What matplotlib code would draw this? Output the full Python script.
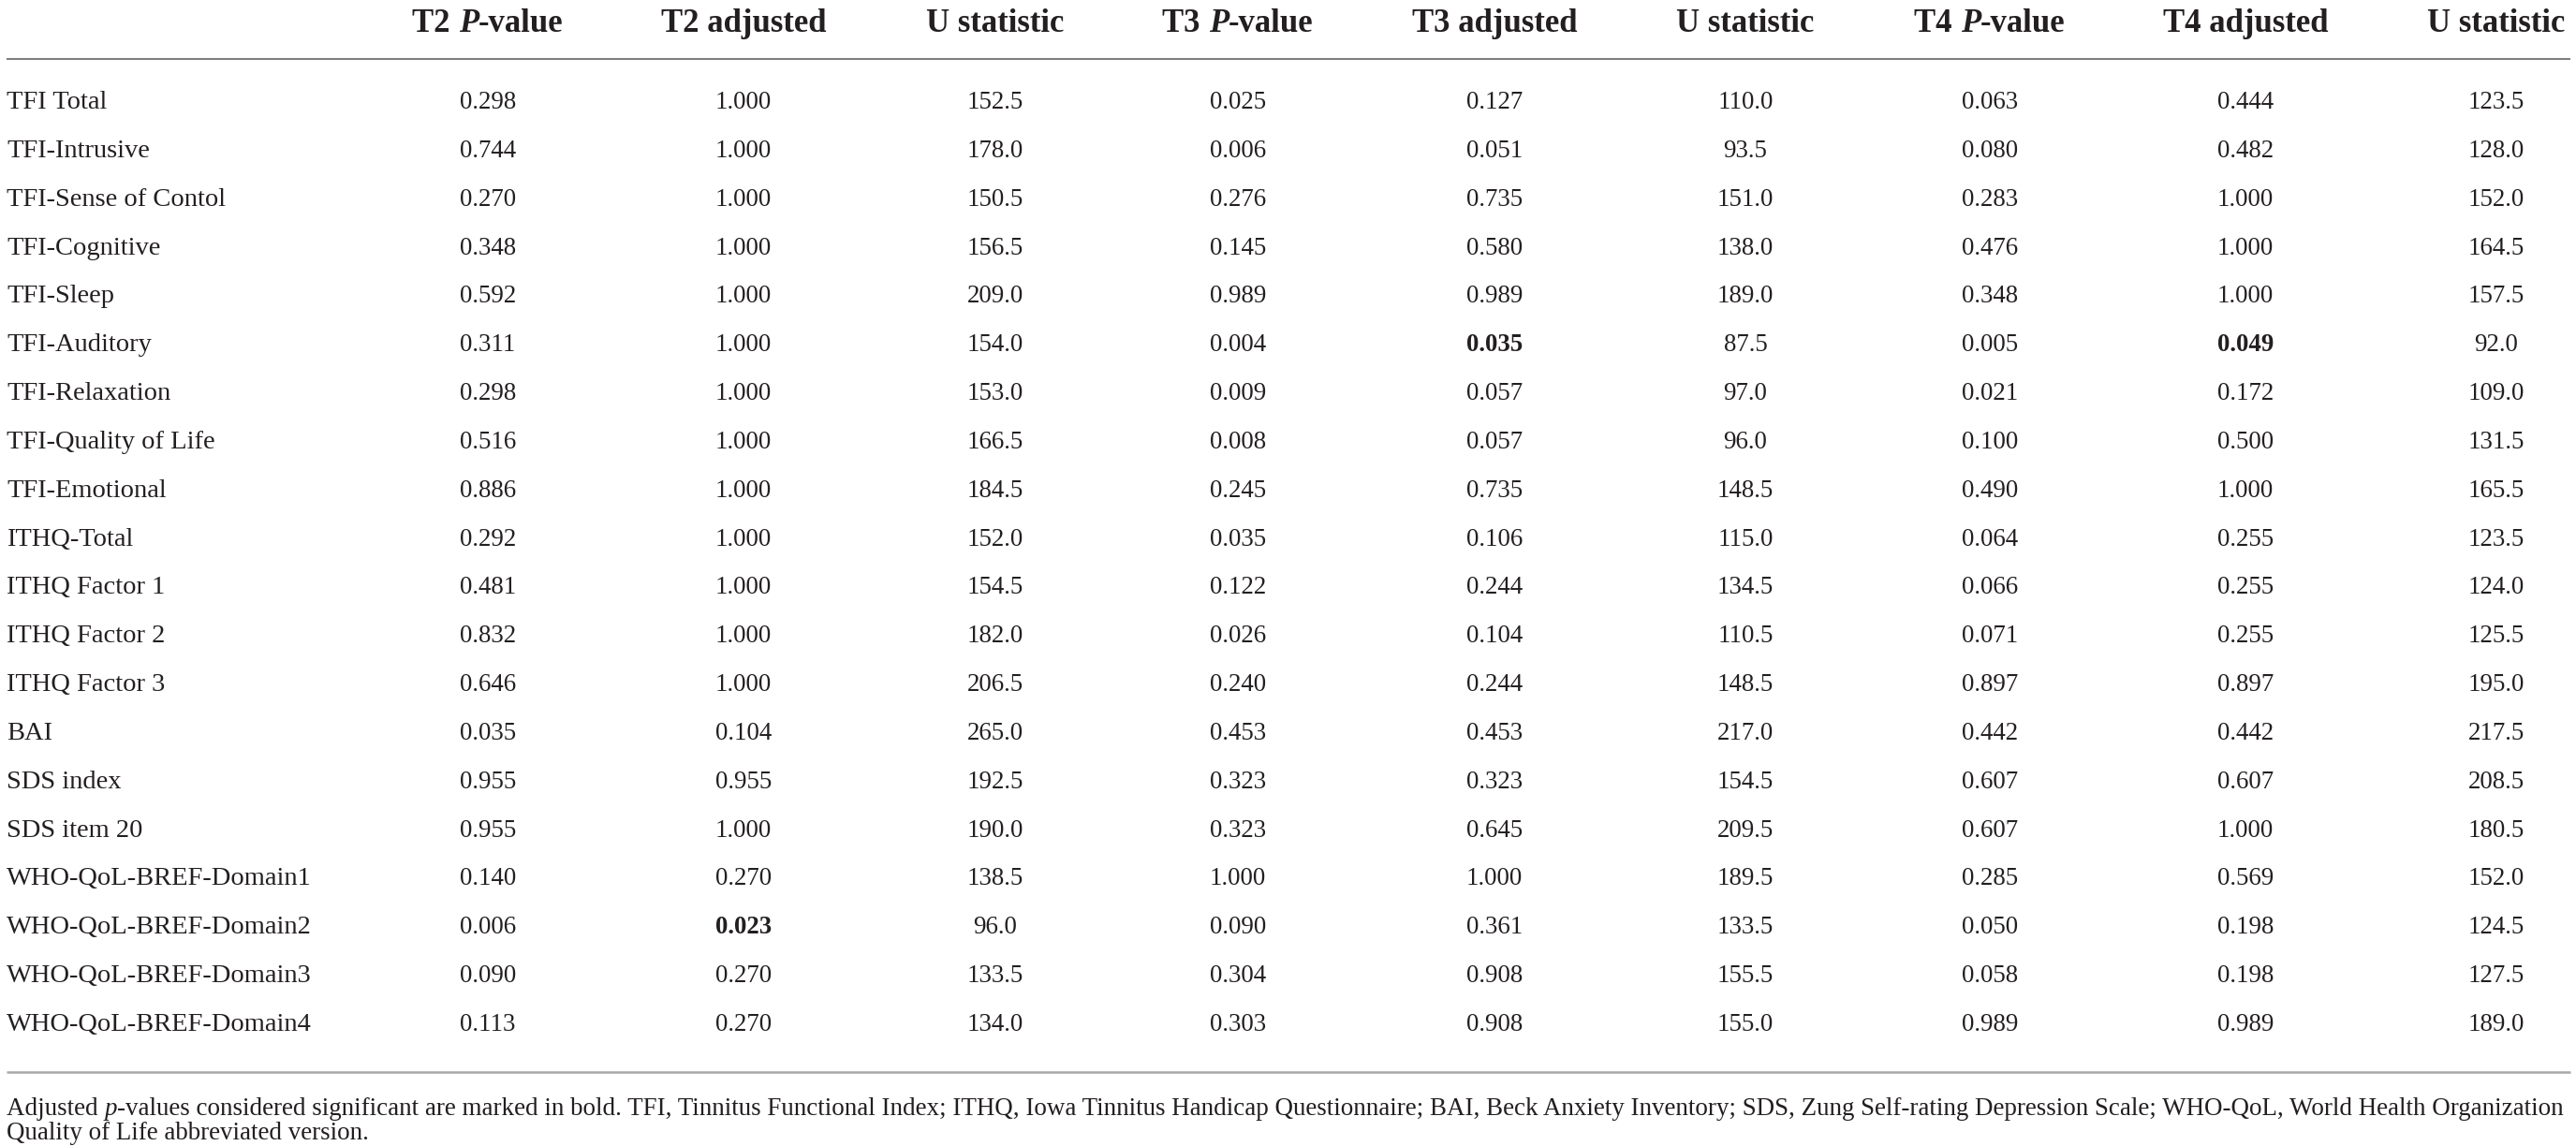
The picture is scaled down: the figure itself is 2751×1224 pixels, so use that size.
import matplotlib
matplotlib.use("Agg")
import matplotlib.pyplot as plt

# ---------------- data ----------------
row_labels = ["TFI Total", "TFI-Intrusive", "TFI-Sense of Contol", "TFI-Cognitive", "TFI-Sleep",
              "TFI-Auditory", "TFI-Relaxation", "TFI-Quality of Life", "TFI-Emotional", "ITHQ-Total",
              "ITHQ Factor 1", "ITHQ Factor 2", "ITHQ Factor 3", "BAI", "SDS index", "SDS item 20",
              "WHO-QoL-BREF-Domain1", "WHO-QoL-BREF-Domain2", "WHO-QoL-BREF-Domain3", "WHO-QoL-BREF-Domain4"]

t2_p = [0.298, 0.744, 0.270, 0.348, 0.592, 0.311, 0.298, 0.516, 0.886, 0.292,
        0.481, 0.832, 0.646, 0.035, 0.955, 0.955, 0.140, 0.006, 0.090, 0.113]
t2_adj = [1.000, 1.000, 1.000, 1.000, 1.000, 1.000, 1.000, 1.000, 1.000, 1.000,
          1.000, 1.000, 1.000, 0.104, 0.955, 1.000, 0.270, 0.023, 0.270, 0.270]
t2_u = [152.5, 178.0, 150.5, 156.5, 209.0, 154.0, 153.0, 166.5, 184.5, 152.0,
        154.5, 182.0, 206.5, 265.0, 192.5, 190.0, 138.5, 96.0, 133.5, 134.0]
t3_p = [0.025, 0.006, 0.276, 0.145, 0.989, 0.004, 0.009, 0.008, 0.245, 0.035,
        0.122, 0.026, 0.240, 0.453, 0.323, 0.323, 1.000, 0.090, 0.304, 0.303]
t3_adj = [0.127, 0.051, 0.735, 0.580, 0.989, 0.035, 0.057, 0.057, 0.735, 0.106,
          0.244, 0.104, 0.244, 0.453, 0.323, 0.645, 1.000, 0.361, 0.908, 0.908]
t3_u = [110.0, 93.5, 151.0, 138.0, 189.0, 87.5, 97.0, 96.0, 148.5, 115.0,
        134.5, 110.5, 148.5, 217.0, 154.5, 209.5, 189.5, 133.5, 155.5, 155.0]
t4_p = [0.063, 0.080, 0.283, 0.476, 0.348, 0.005, 0.021, 0.100, 0.490, 0.064,
        0.066, 0.071, 0.897, 0.442, 0.607, 0.607, 0.285, 0.050, 0.058, 0.989]
t4_adj = [0.444, 0.482, 1.000, 1.000, 1.000, 0.049, 0.172, 0.500, 1.000, 0.255,
          0.255, 0.255, 0.897, 0.442, 0.607, 1.000, 0.569, 0.198, 0.198, 0.989]
t4_u = [123.5, 128.0, 152.0, 164.5, 157.5, 92.0, 109.0, 131.5, 165.5, 123.5,
        124.0, 125.5, 195.0, 217.5, 208.5, 180.5, 152.0, 124.5, 127.5, 189.0]

# significant adjusted values (row index, column key) shown in bold
bold_cells = [(17, "t2_adj"), (5, "t3_adj"), (5, "t4_adj")]

headers = [[("T2 ", "bold"), ("P", "bolditalic"), ("-value", "bold")],
           [("T2 adjusted", "bold")],
           [("U statistic", "bold")],
           [("T3 ", "bold"), ("P", "bolditalic"), ("-value", "bold")],
           [("T3 adjusted", "bold")],
           [("U statistic", "bold")],
           [("T4 ", "bold"), ("P", "bolditalic"), ("-value", "bold")],
           [("T4 adjusted", "bold")],
           [("U statistic", "bold")]]

col_keys = ["t2_p", "t2_adj", "t2_u", "t3_p", "t3_adj", "t3_u", "t4_p", "t4_adj", "t4_u"]
col_data = {"t2_p": t2_p, "t2_adj": t2_adj, "t2_u": t2_u,
            "t3_p": t3_p, "t3_adj": t3_adj, "t3_u": t3_u,
            "t4_p": t4_p, "t4_adj": t4_adj, "t4_u": t4_u}
col_fmt = {"t2_p": "{:.3f}", "t2_adj": "{:.3f}", "t2_u": "{:.1f}",
           "t3_p": "{:.3f}", "t3_adj": "{:.3f}", "t3_u": "{:.1f}",
           "t4_p": "{:.3f}", "t4_adj": "{:.3f}", "t4_u": "{:.1f}"}

caption_lines = [
    [("Adjusted ", "normal"), ("p", "italic"),
     ("-values considered significant are marked in bold. TFI, Tinnitus Functional Index; ITHQ, Iowa Tinnitus "
      "Handicap Questionnaire; BAI, Beck Anxiety Inventory; SDS, Zung Self-rating Depression Scale; WHO-QoL, "
      "World Health Organization", "normal")],
    [("Quality of Life abbreviated version.", "normal")],
]

# ---------------- layout ----------------
W, H = 2751, 1224
fig = plt.figure(figsize=(W / 100, H / 100), dpi=100)
ax = fig.add_axes([0, 0, 1, 1])
ax.set_xlim(0, W)
ax.set_ylim(H, 0)
ax.axis("off")

FONT = "Liberation Serif"
TXT = "#231f20"
HEAD_FS = 25.0
NUM_FS = 19.4
LAB_FS = 20.5
col_x = [521, 794, 1063, 1322, 1596, 1864, 2125, 2398, 2666]
label_x = 7
right_x = 2745
header_base = 34
row0_base = 116
row_step = 51.84
line_top = 63
line_bot = 1145
cap_base = [1191, 1217]

renderer = fig.canvas.get_renderer()


def style_kw(style):
    kw = {"family": FONT, "color": TXT}
    if "bold" in style:
        kw["weight"] = "bold"
    if "italic" in style:
        kw["style"] = "italic"
    return kw


def run_width(runs, fs):
    total = 0
    for s, st in runs:
        t = ax.text(0, 0, s, fontsize=fs, **style_kw(st))
        total += t.get_window_extent(renderer=renderer).width
        t.remove()
    return total


def draw_runs(runs, x, y, fs, align="left"):
    if align == "center":
        x = x - run_width(runs, fs) / 2
    for s, st in runs:
        t = ax.text(x, y, s, fontsize=fs, va="baseline", ha="left", **style_kw(st))
        x += t.get_window_extent(renderer=renderer).width


# header
for cx, runs in zip(col_x, headers):
    draw_runs(runs, cx, header_base, HEAD_FS, align="center")

# rules
ax.plot([label_x, right_x], [line_top, line_top], color="#7f7f7f", lw=1.5, solid_capstyle="butt")
ax.plot([label_x, right_x], [line_bot, line_bot], color="#a8a8a8", lw=1.8, solid_capstyle="butt")

# body
for i, lab in enumerate(row_labels):
    y = row0_base + i * row_step
    ax.text(label_x, y, lab, fontsize=LAB_FS, va="baseline", ha="left", family=FONT, color=TXT)
    for cx, key in zip(col_x, col_keys):
        val = col_fmt[key].format(col_data[key][i])
        bold = (i, key) in bold_cells
        ax.text(cx, y, val, fontsize=NUM_FS, va="baseline", ha="center", family=FONT,
                weight="bold" if bold else "normal", color=TXT)

# caption: size chosen so that the first line spans the table width
base_fs = 20.0
cap_fs = base_fs * (right_x - label_x) / run_width(caption_lines[0], base_fs)
for runs, yb in zip(caption_lines, cap_base):
    draw_runs(runs, label_x, yb, cap_fs)

fig.savefig("out.png", dpi=100, facecolor="white")
